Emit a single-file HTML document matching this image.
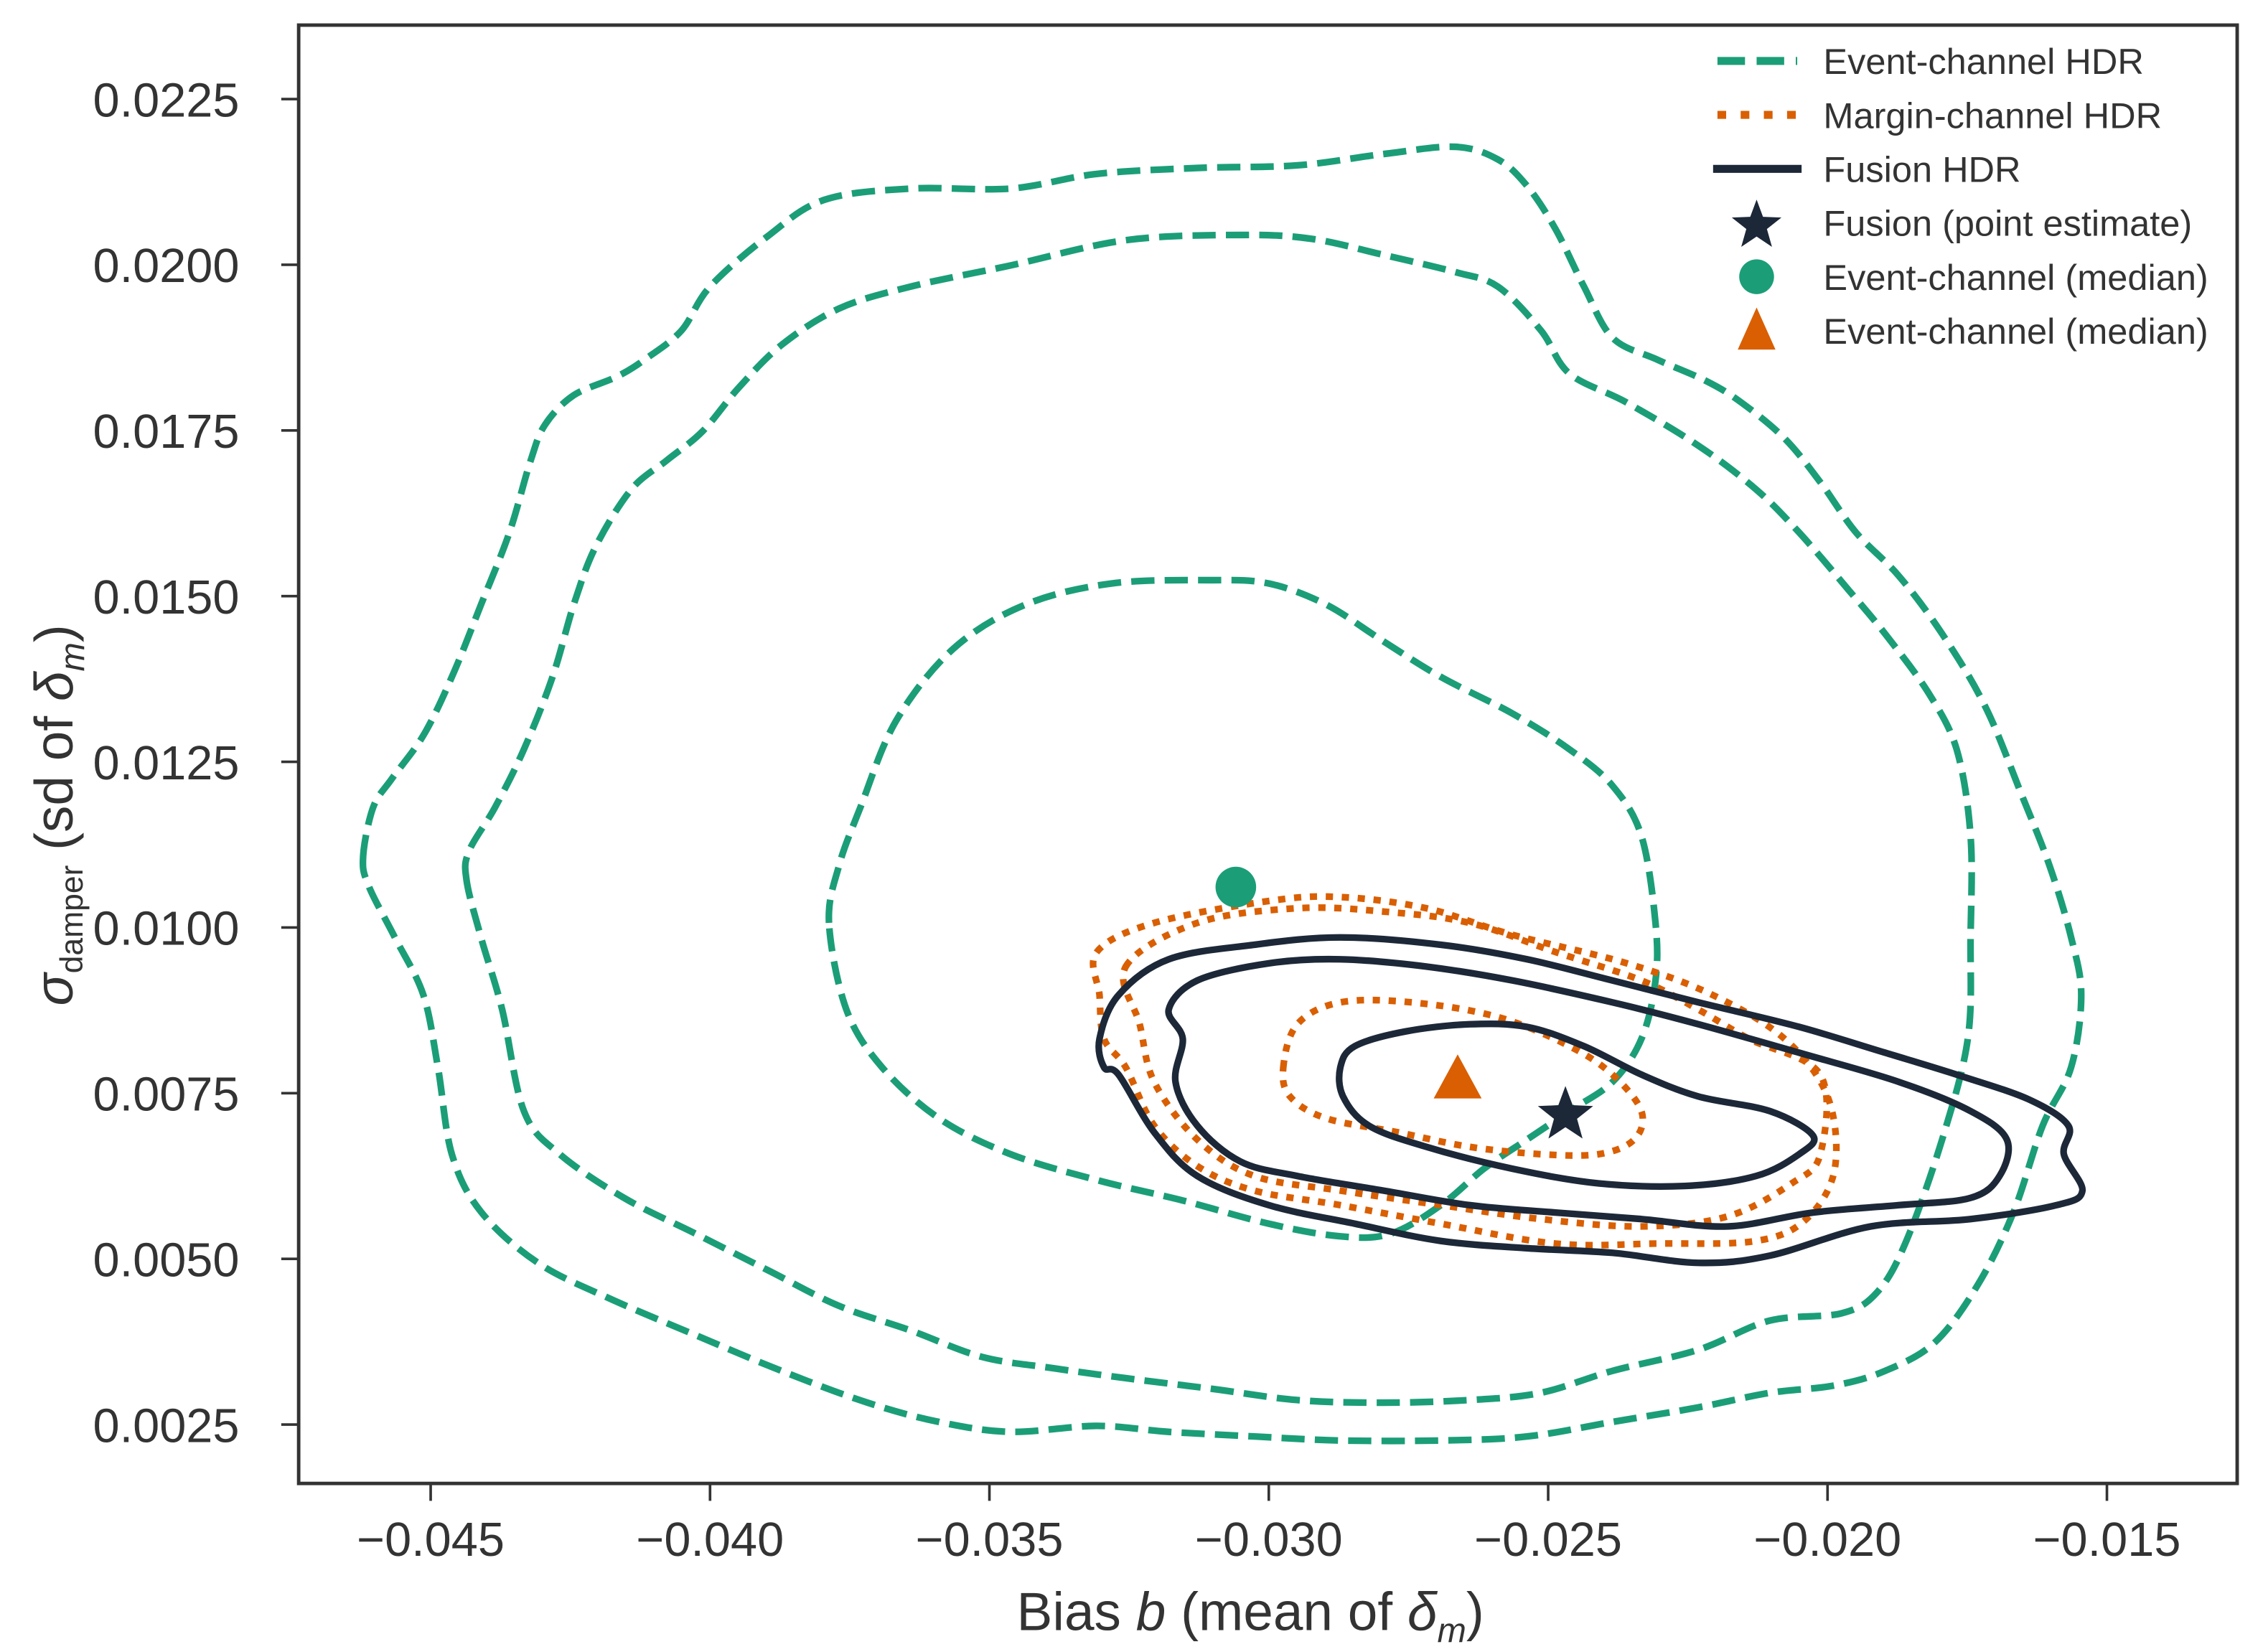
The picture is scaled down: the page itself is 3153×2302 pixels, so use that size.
<!DOCTYPE html>
<html><head><meta charset="utf-8"><style>
html,body{margin:0;padding:0;background:#fff}
svg{display:block}
text{font-family:"Liberation Sans",sans-serif;fill:#333}
</style></head><body>
<svg id="chart" width="3153" height="2302" viewBox="0 0 1560.1 1139" xmlns="http://www.w3.org/2000/svg">
<g id="plot"></g>
<g id="axes"></g>
<g id="legend"></g>
</svg>
<script>
// ticks (data units)
const xTicks = [-0.045,-0.040,-0.035,-0.030,-0.025,-0.020,-0.015];
const xTickLabels = ["\u22120.045","\u22120.040","\u22120.035","\u22120.030","\u22120.025","\u22120.020","\u22120.015"];
const yTicks = [0.0025,0.0050,0.0075,0.0100,0.0125,0.0150,0.0175,0.0200,0.0225];
const yTickLabels = ["0.0025","0.0050","0.0075","0.0100","0.0125","0.0150","0.0175","0.0200","0.0225"];
// contours in thousandths [x, y]
const eventOuter = [[-46.21,11.05],[-46.03,11.81],[-45.69,12.25],[-45.13,12.90],[-44.62,13.78],[-44.10,14.87],[-43.59,15.96],[-43.21,17.05],[-42.95,17.59],[-42.44,18.03],[-41.67,18.31],[-41.15,18.58],[-40.51,19.01],[-40.00,19.67],[-38.97,20.43],[-37.95,20.98],[-36.41,21.15],[-34.62,21.15],[-33.08,21.37],[-31.28,21.46],[-29.49,21.50],[-27.95,21.67],[-26.67,21.78],[-25.90,21.59],[-25.38,21.19],[-24.87,20.54],[-24.36,19.67],[-23.85,18.90],[-23.08,18.58],[-22.18,18.25],[-21.54,17.92],[-20.77,17.38],[-20.13,16.72],[-19.49,15.96],[-18.72,15.30],[-17.95,14.43],[-17.18,13.34],[-16.54,12.03],[-16.03,10.94],[-15.64,9.85],[-15.46,8.98],[-15.64,7.89],[-16.15,7.01],[-16.67,5.71],[-17.31,4.61],[-18.08,3.74],[-18.97,3.31],[-19.87,3.09],[-21.03,2.98],[-22.31,2.76],[-23.85,2.54],[-25.38,2.32],[-26.92,2.26],[-28.72,2.26],[-30.26,2.32],[-31.80,2.39],[-33.08,2.48],[-34.62,2.39],[-35.90,2.54],[-37.18,2.83],[-38.72,3.31],[-40.26,3.85],[-41.79,4.40],[-43.08,4.94],[-44.10,5.71],[-44.62,6.58],[-44.87,7.89],[-45.13,8.98],[-45.64,9.85],[-46.10,10.61]];
const eventMid = [[-44.36,10.72],[-44.31,11.16],[-43.85,11.81],[-43.33,12.69],[-42.82,13.78],[-42.44,14.87],[-42.05,15.74],[-41.41,16.61],[-40.77,17.05],[-40.13,17.49],[-39.49,18.14],[-38.72,18.79],[-37.69,19.34],[-36.41,19.67],[-34.62,19.99],[-32.56,20.37],[-30.51,20.45],[-29.23,20.39],[-27.95,20.15],[-26.67,19.89],[-25.90,19.67],[-25.13,19.01],[-24.62,18.36],[-23.59,17.92],[-22.31,17.27],[-21.28,16.61],[-20.51,15.96],[-19.62,15.09],[-18.97,14.43],[-18.21,13.56],[-17.69,12.69],[-17.44,11.38],[-17.44,9.85],[-17.49,8.32],[-17.95,6.80],[-18.59,5.27],[-19.10,4.51],[-19.74,4.18],[-21.03,4.07],[-22.31,3.63],[-23.85,3.31],[-25.13,2.98],[-26.41,2.87],[-27.95,2.83],[-29.49,2.87],[-31.03,3.04],[-32.56,3.20],[-33.85,3.35],[-35.13,3.52],[-36.41,3.92],[-37.69,4.29],[-38.97,4.83],[-40.26,5.38],[-41.54,5.92],[-42.69,6.58],[-43.33,7.23],[-43.72,8.76],[-44.10,9.85]];
const eventInner = [[-37.87,10.07],[-37.69,10.94],[-37.31,11.81],[-36.67,13.12],[-35.64,14.21],[-34.36,14.87],[-32.82,15.19],[-31.03,15.24],[-30.00,15.19],[-28.97,14.87],[-27.95,14.32],[-26.92,13.78],[-25.64,13.23],[-24.62,12.69],[-23.85,12.14],[-23.33,11.38],[-23.08,10.07],[-23.08,9.20],[-23.33,8.32],[-23.85,7.67],[-24.62,7.23],[-25.38,6.80],[-26.15,6.36],[-26.92,5.81],[-27.82,5.38],[-28.72,5.34],[-30.00,5.53],[-31.54,5.88],[-33.08,6.19],[-34.62,6.58],[-35.90,7.12],[-36.92,7.89],[-37.56,8.76]];
const marginOuter = [[-33.08,9.63],[-32.05,10.07],[-30.00,10.40],[-28.72,10.46],[-27.18,10.29],[-25.64,9.89],[-23.59,9.46],[-22.05,8.98],[-20.77,8.32],[-20.00,7.45],[-19.87,6.36],[-20.38,5.60],[-21.28,5.27],[-23.08,5.23],[-24.87,5.23],[-26.92,5.53],[-28.72,5.81],[-30.26,6.03],[-31.28,6.40],[-32.05,7.01],[-32.56,7.89],[-32.95,8.32],[-33.03,8.98]];
const marginMid = [[-32.56,9.41],[-31.28,10.07],[-29.49,10.29],[-27.95,10.24],[-26.41,10.07],[-24.87,9.63],[-23.33,9.20],[-22.31,8.76],[-21.41,8.32],[-20.13,7.78],[-20.13,6.58],[-20.64,6.14],[-21.79,5.64],[-23.33,5.49],[-25.13,5.60],[-26.92,5.81],[-28.72,6.03],[-30.26,6.25],[-31.28,6.80],[-32.05,7.67],[-32.31,8.54]];
const marginInner = [[-29.74,7.89],[-29.49,8.54],[-28.72,8.87],[-27.44,8.87],[-25.90,8.65],[-24.62,8.21],[-23.85,7.78],[-23.33,7.23],[-23.46,6.80],[-24.10,6.58],[-25.13,6.58],[-26.41,6.69],[-27.69,6.91],[-28.97,7.12],[-29.62,7.45]];
const fusionOuter = [[-33.03,8.32],[-32.69,8.98],[-31.79,9.52],[-30.26,9.74],[-28.72,9.85],[-26.92,9.74],[-25.38,9.52],[-23.85,9.20],[-22.31,8.87],[-20.51,8.50],[-18.97,8.11],[-17.69,7.78],[-16.41,7.41],[-15.69,7.01],[-15.77,6.58],[-15.44,6.03],[-15.90,5.81],[-17.44,5.60],[-19.23,5.49],[-21.03,5.05],[-22.31,4.94],[-23.85,5.09],[-25.38,5.16],[-26.92,5.27],[-28.46,5.53],[-30.00,5.81],[-31.28,6.25],[-32.05,6.91],[-32.69,7.78],[-32.95,7.89]];
const fusionMid = [[-31.79,8.76],[-31.28,9.20],[-30.00,9.46],[-28.72,9.52],[-27.18,9.41],[-25.64,9.20],[-23.85,8.87],[-22.31,8.54],[-20.51,8.11],[-18.72,7.67],[-17.44,7.23],[-16.79,6.80],[-16.92,6.25],[-17.44,5.92],[-18.72,5.81],[-20.26,5.70],[-21.79,5.49],[-23.33,5.60],[-24.87,5.70],[-26.41,5.81],[-27.95,6.03],[-29.49,6.25],[-30.51,6.47],[-31.28,7.01],[-31.67,7.67],[-31.54,8.32]];
const fusionInner = [[-28.72,7.89],[-28.46,8.21],[-27.56,8.43],[-26.41,8.54],[-25.38,8.50],[-24.36,8.21],[-23.33,7.78],[-22.31,7.45],[-21.03,7.23],[-20.26,6.86],[-20.51,6.58],[-21.28,6.25],[-22.56,6.10],[-24.10,6.14],[-25.64,6.36],[-27.18,6.69],[-28.21,7.01],[-28.67,7.45]];
const eventMedian = [-30.59,10.61];
const marginMedian = [-26.62,7.67];
const fusionPoint = [-24.69,7.17];

const NS="http://www.w3.org/2000/svg";
const L=205.9,R=1542.3,T=17.3,B=1022.8;
const xS=v=>296.9+(v+0.045)*38520;
const yS=v=>982.2-(v-0.0025)*45696;
const px=p=>[xS(p[0]/1000),yS(p[1]/1000)];
function mk(tag,attrs,parent){const e=document.createElementNS(NS,tag);for(const k in attrs)e.setAttribute(k,attrs[k]);parent.appendChild(e);return e;}
function smooth(pts){
  const P=pts.map(px),n=P.length;let d="M"+P[0][0].toFixed(1)+","+P[0][1].toFixed(1);
  for(let i=0;i<n;i++){const p0=P[(i-1+n)%n],p1=P[i],p2=P[(i+1)%n],p3=P[(i+2)%n];
    const c1=[p1[0]+(p2[0]-p0[0])/6,p1[1]+(p2[1]-p0[1])/6],c2=[p2[0]-(p3[0]-p1[0])/6,p2[1]-(p3[1]-p1[1])/6];
    d+="C"+c1.map(v=>v.toFixed(1))+" "+c2.map(v=>v.toFixed(1))+" "+p2.map(v=>v.toFixed(1));}
  return d+"Z";}
const plot=document.getElementById('plot'),axes=document.getElementById('axes'),leg=document.getElementById('legend');
const G="#1b9e77",O="#d95f02",N="#1c2838";
const styles={event:{stroke:G,"stroke-width":4.6,"stroke-dasharray":"16 7"},margin:{stroke:O,"stroke-width":4.6,"stroke-dasharray":"5 6"},fusion:{stroke:N,"stroke-width":4.6}};
const contours=[["event-hdr-outer",eventOuter,"event"],["event-hdr-mid",eventMid,"event"],["event-hdr-inner",eventInner,"event"],["margin-hdr-outer",marginOuter,"margin"],["margin-hdr-mid",marginMid,"margin"],["margin-hdr-inner",marginInner,"margin"],["fusion-hdr-outer",fusionOuter,"fusion"],["fusion-hdr-mid",fusionMid,"fusion"],["fusion-hdr-inner",fusionInner,"fusion"]];
contours.forEach(c=>{const a=Object.assign({d:smooth(c[1]),fill:"none","stroke-linejoin":"round"},styles[c[2]]);const e=mk("path",a,plot);

});
function star(cx,cy,r){let d="";for(let i=0;i<10;i++){const rr=i%2?r*0.42:r,a=-Math.PI/2+i*Math.PI/5;d+=(i?"L":"M")+(cx+rr*Math.cos(a)).toFixed(1)+","+(cy+rr*Math.sin(a)).toFixed(1);}return d+"Z";}
function tri(cx,cy,r){return `M${cx},${cy-r}L${cx+r*0.87},${cy+r*0.6}L${cx-r*0.87},${cy+r*0.6}Z`;}
let p=px(eventMedian);let m=mk("circle",{cx:p[0],cy:p[1],r:14,fill:G},plot);


p=px(marginMedian);m=mk("path",{d:tri(p[0],p[1],19),fill:O},plot);


p=px(fusionPoint);m=mk("path",{d:star(p[0],p[1],20),fill:N},plot);


// axes
m=mk("rect",{x:L,y:T,width:R-L,height:B-T,fill:"none",stroke:"#333","stroke-width":2.4},axes);


xTicks.forEach((v,i)=>{const x=xS(v);mk("line",{x1:x,x2:x,y1:B,y2:B+12,stroke:"#333","stroke-width":1.8},axes);
const t=mk("text",{x:x,y:B+50,"text-anchor":"middle","font-size":33},axes);t.textContent=xTickLabels[i];

});
yTicks.forEach((v,i)=>{const y=yS(v);mk("line",{x1:L-12,x2:L,y1:y,y2:y,stroke:"#333","stroke-width":1.8},axes);
const t=mk("text",{x:165,y:y+12,"text-anchor":"end","font-size":33},axes);t.textContent=yTickLabels[i];

});
</script>
<script>
(function(){
const NS="http://www.w3.org/2000/svg";const axes=document.getElementById('axes');
const xl=document.createElementNS(NS,"text");xl.setAttribute("x",862);xl.setAttribute("y",1124);xl.setAttribute("text-anchor","middle");xl.setAttribute("font-size",37);
xl.innerHTML='Bias <tspan font-style="italic">b</tspan> (mean of <tspan font-style="italic">δ</tspan><tspan font-style="italic" font-size="24" dy="8">m</tspan><tspan dy="-8">)</tspan>';


axes.appendChild(xl);
const yl=document.createElementNS(NS,"text");yl.setAttribute("transform","translate(50,562) rotate(-90)");yl.setAttribute("text-anchor","middle");yl.setAttribute("font-size",37);
yl.innerHTML='<tspan font-style="italic">σ</tspan><tspan font-size="22" dy="7">damper</tspan><tspan dy="-7"> (sd of </tspan><tspan font-style="italic">δ</tspan><tspan font-style="italic" font-size="24" dy="8">m</tspan><tspan dy="-8">)</tspan>';


axes.appendChild(yl);
const leg=document.getElementById('legend');
const items=[["legend-event-hdr","Event-channel HDR","line"],["legend-margin-hdr","Margin-channel HDR","dot"],["legend-fusion-hdr","Fusion HDR","solid"],["legend-fusion-point","Fusion (point estimate)","star"],["legend-event-median","Event-channel (median)","circle"],["legend-margin-median","Event-channel (median)","tri"]];
const mx=1211,x0=1184,x1=1239,tx=1257;
items.forEach((it,i)=>{const y=42+i*37.2;const g=document.createElementNS(NS,"g");


let s;
if(it[2]==="line"){s=`<line x1="${x0}" x2="${x1}" y1="${y}" y2="${y}" stroke="#1b9e77" stroke-width="5.5" stroke-dasharray="19 8"/>`;}
else if(it[2]==="dot"){s=`<line x1="${x0}" x2="${x1}" y1="${y}" y2="${y}" stroke="#d95f02" stroke-width="5.5" stroke-dasharray="6 10"/>`;}
else if(it[2]==="solid"){s=`<line x1="${x0-3}" x2="${x1+3}" y1="${y}" y2="${y}" stroke="#1c2838" stroke-width="5.5"/>`;}
else if(it[2]==="star"){let d="";for(let k=0;k<10;k++){const r=k%2?7.5:18,a=-Math.PI/2+k*Math.PI/5;d+=(k?"L":"M")+(mx+r*Math.cos(a)).toFixed(1)+","+(y+2+r*Math.sin(a)).toFixed(1);}s=`<path d="${d}Z" fill="#1c2838"/>`;}
else if(it[2]==="circle"){s=`<circle cx="${mx}" cy="${y}" r="12" fill="#1b9e77"/>`;}
else{s=`<path d="M${mx},${y-16}L${mx+13},${y+13}L${mx-13},${y+13}Z" fill="#d95f02"/>`;}
s+=`<text x="${tx}" y="${y+9}" font-size="25">${it[1]}</text>`;g.innerHTML=s;leg.appendChild(g);});
})();
</script>
</body></html>
